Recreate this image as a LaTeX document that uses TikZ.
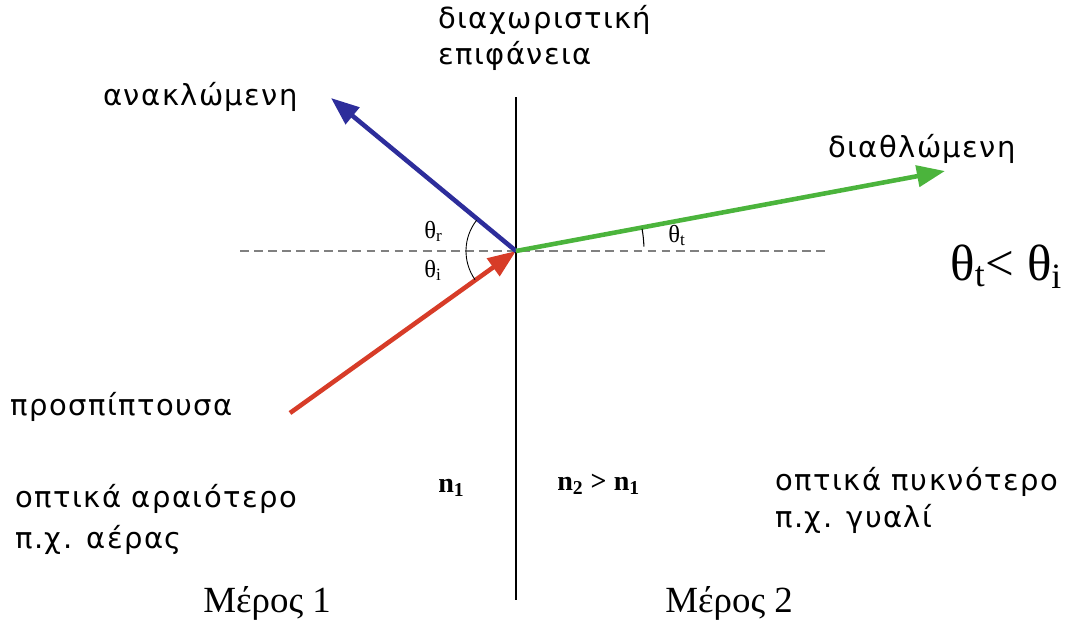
\documentclass[tikz,border=0pt]{standalone}
\usepackage{fontspec}
\setmainfont{Liberation Serif}
\newfontfamily\grfont[LetterSpace=5]{DejaVu Sans}
\usetikzlibrary{arrows.meta}
\definecolor{rayblue}{RGB}{45,45,155}
\definecolor{rayred}{RGB}{215,60,40}
\definecolor{raygreen}{RGB}{75,180,60}

\begin{document}
\begin{tikzpicture}[x=0.02cm, y=-0.02cm,
        lbl/.style={anchor=base west, inner sep=0pt, font=\grfont\fontsize{16.5}{19}\selectfont},
        serlbl/.style={anchor=base west, inner sep=0pt, font=\fontsize{21}{24}\selectfont},
        anglbl/.style={anchor=base west, inner sep=0pt, font=\fontsize{14}{16}\selectfont},
        idx/.style={anchor=base west, inner sep=0pt, font=\bfseries\fontsize{16}{18}\selectfont},
        ray/.style={line width=2.6pt, -{Triangle[length=16pt, width=12pt]}}
    ]
    \useasboundingbox (0,0) rectangle (1069,623);

    \coordinate (O) at (516,251);
    \coordinate (inc) at (290,413);
    \coordinate (refl) at (331,98);
    \coordinate (refr) at (945,171);
    \coordinate (top) at (516,97);
    \coordinate (bot) at (516,600);
    \coordinate (dl) at (240,251);
    \coordinate (dr) at (830,251);

    \draw[line width=0.8pt] (top) -- (bot);
    \draw[gray, line width=0.6pt, dash pattern=on 5pt off 3pt] (dl) -- (dr);

    \draw[ray, rayred] (inc) -- (O);
    \draw[ray, rayblue] (O) -- (refl);
    \draw[ray, raygreen] (O) -- (refr);

    \draw[line width=0.5pt] (O) ++(145:50) arc[start angle=145, end angle=218, radius=50];
    \draw[line width=0.6pt] (O) ++(-10:128) arc[start angle=-10, end angle=-2, radius=128];

    \node[lbl] (refllbl) at (103,105) {ανακλώμενη};
    \node[lbl] (surf1) at (438,28) {διαχωριστική};
    \node[lbl] (surf2) at (438,64) {επιφάνεια};
    \node[lbl] (refrlbl) at (828,157) {διαθλώμενη};
    \node[lbl] (inclbl) at (10,415) {προσπίπτουσα};
    \node[lbl] (med1a) at (15,507) {οπτικά αραιότερο};
    \node[lbl] (med1b) at (15,548) {π.χ. αέρας};
    \node[lbl] (med2a) at (775,490) {οπτικά πυκνότερο};
    \node[lbl] (med2b) at (775,527) {π.χ. γυαλί};

    \node[anglbl] (thr) at (424,238) {θ\textsubscript{r}};
    \node[anglbl] (thi) at (424,277) {θ\textsubscript{i}};
    \node[anglbl] (tht) at (668,242) {θ\textsubscript{t}};
    \node[anchor=base west, inner sep=0pt, font=\fontsize{29}{32}\selectfont] (rel) at (950,280) {θ\textsubscript{t}< θ\textsubscript{i}};

    \node[idx] (n1) at (438,492) {n\textsubscript{1}};
    \node[idx] (n2) at (557,490) {n\textsubscript{2} > n\textsubscript{1}};

    \node[serlbl] (part1) at (203,612) {Μέρος 1};
    \node[serlbl] (part2) at (665,612) {Μέρος 2};
\end{tikzpicture}
\end{document}
